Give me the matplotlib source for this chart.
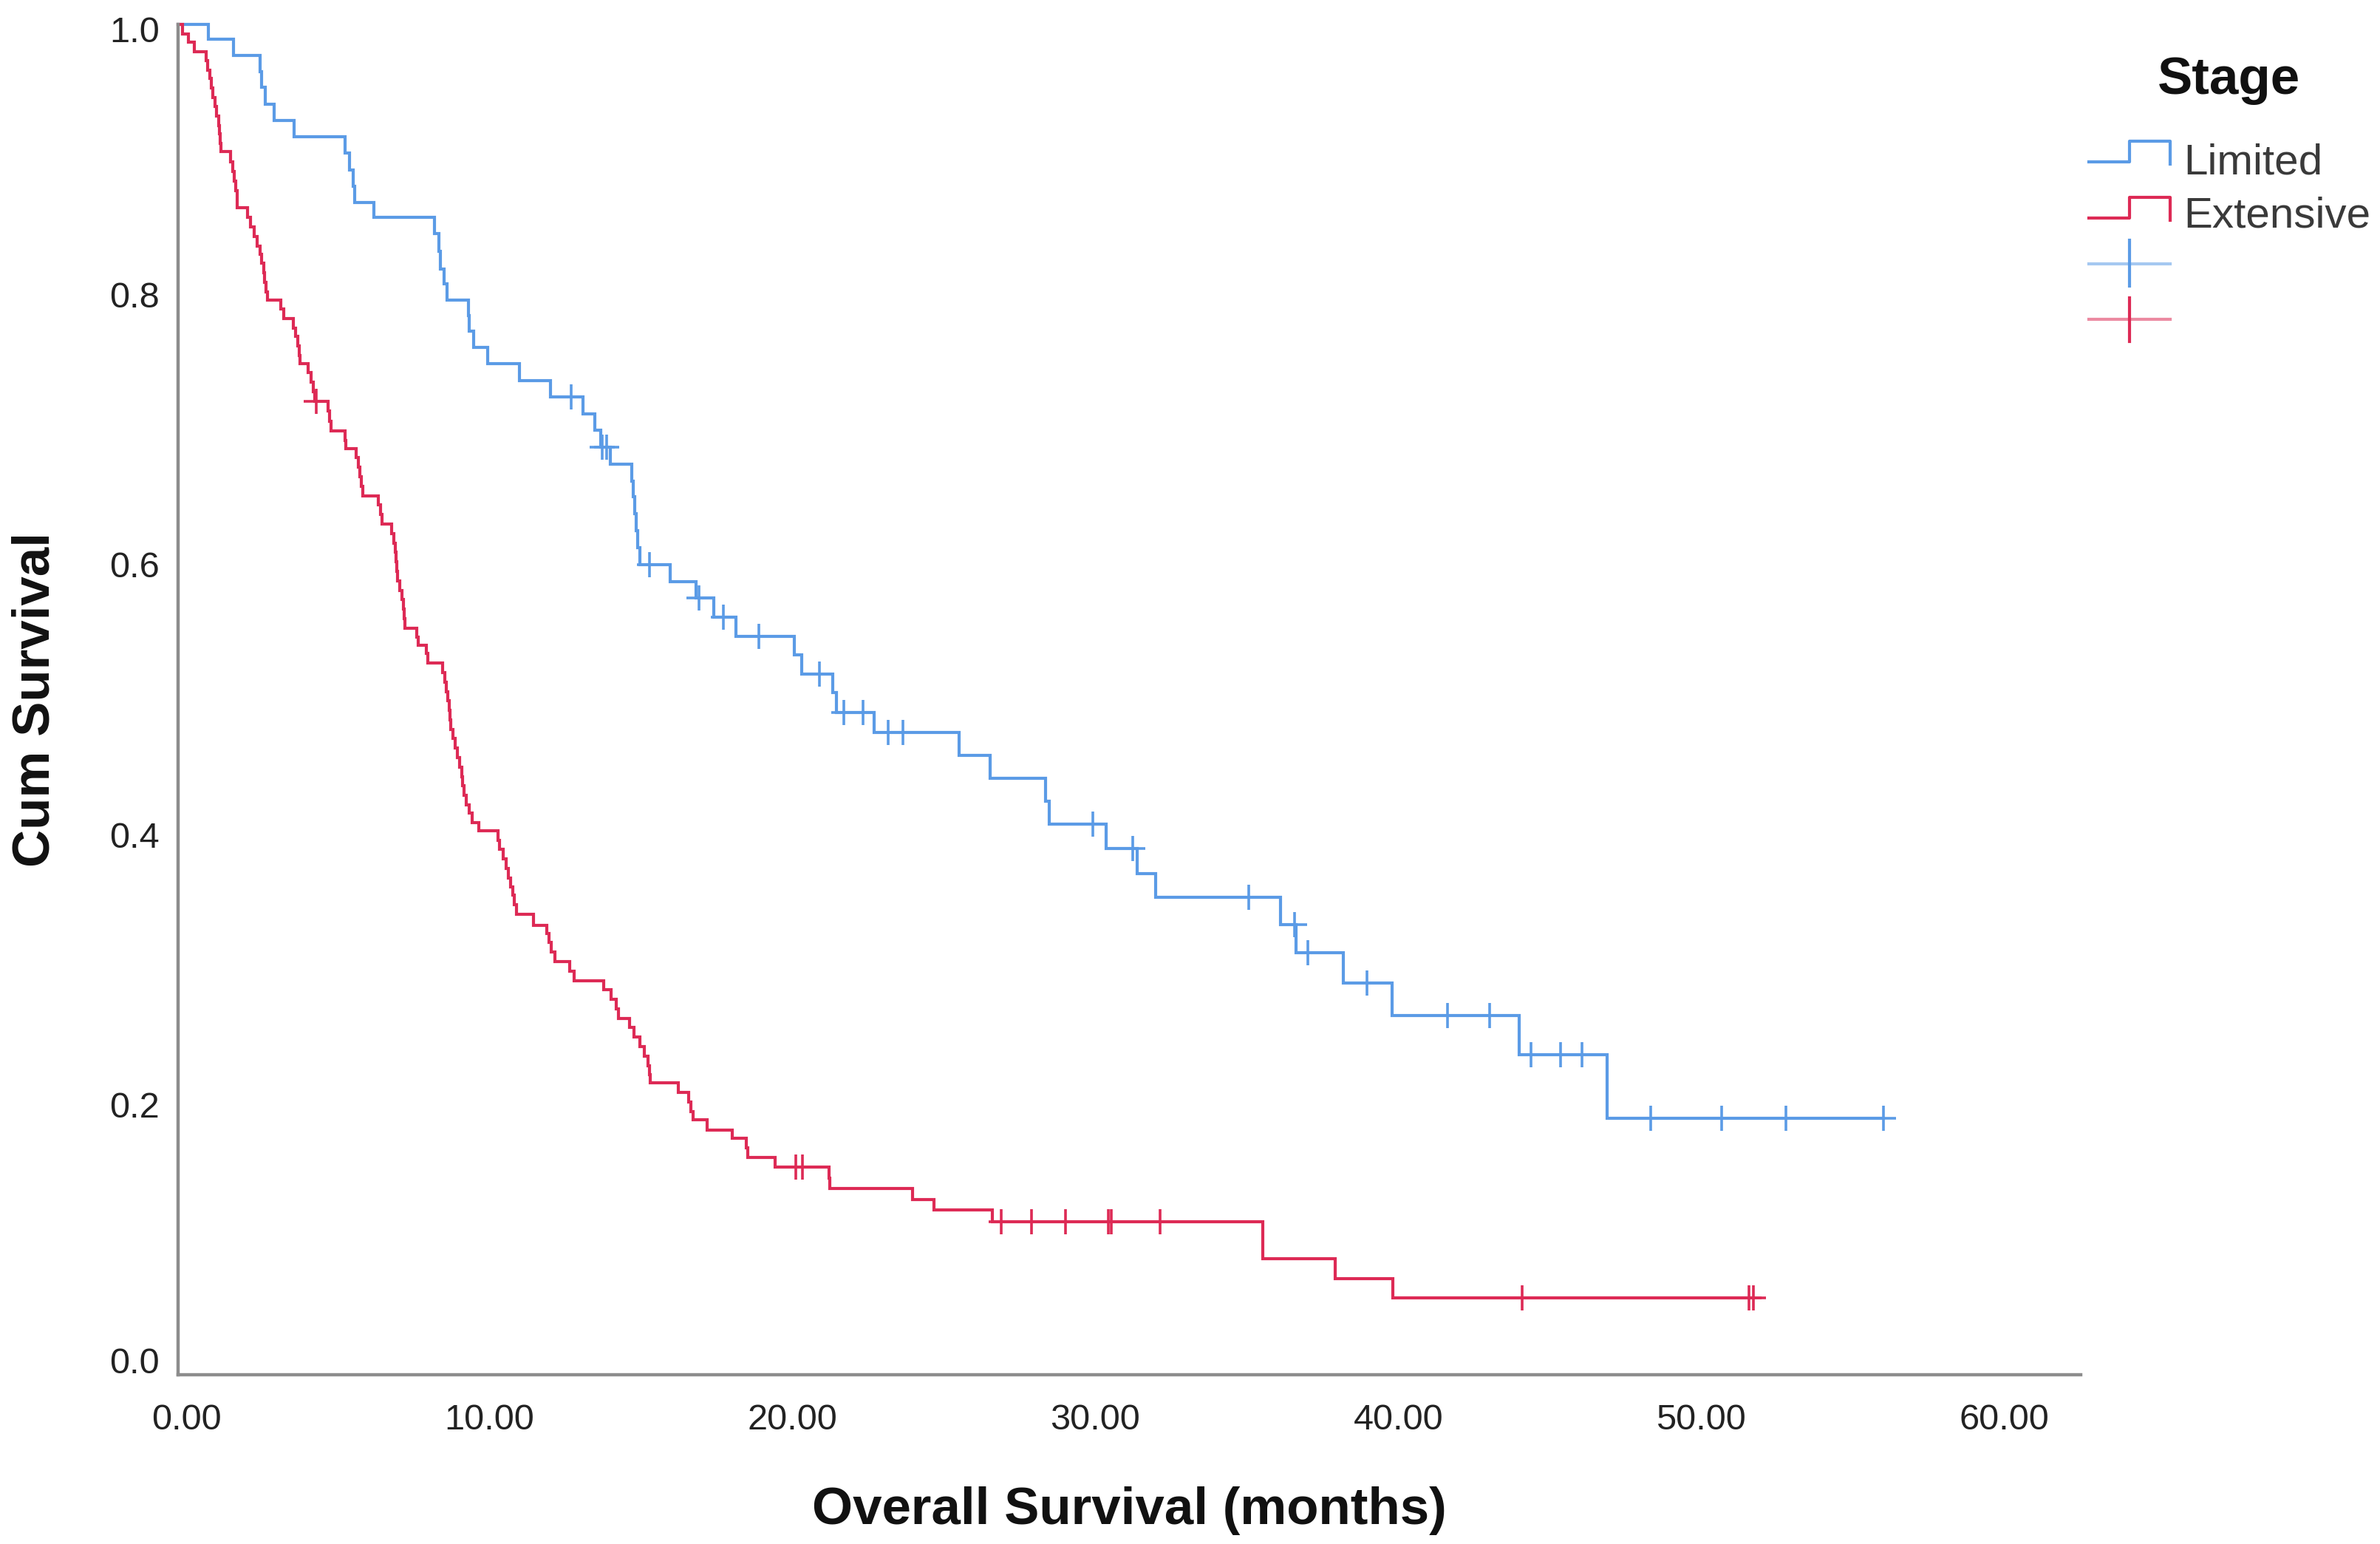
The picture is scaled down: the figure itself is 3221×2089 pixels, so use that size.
import matplotlib
import numpy as np

matplotlib.use('Agg')
import matplotlib.pyplot as plt
import matplotlib.transforms as mtransforms
from matplotlib.lines import Line2D

plt.rcParams['font.family'] = ['Liberation Sans', 'DejaVu Sans']

# Kaplan-Meier steps: month of each drop, survival after it
limited_times = [0, 0.99, 1.83, 2.70, 2.75, 2.87, 3.17, 3.84, 5.50, 5.66, 5.78, 5.82,
                 6.46, 8.46, 8.60, 8.65, 8.78, 8.88, 9.59, 9.62, 9.75, 10.21, 11.27,
                 12.30, 13.36, 13.76, 13.95, 14.26, 14.98, 15.02, 15.07, 15.12, 15.18,
                 15.25, 16.24, 17.10, 17.68, 18.42, 20.35, 20.58, 21.60, 21.72, 22.97,
                 25.78, 26.80, 28.62, 28.76, 30.63, 31.66, 32.26, 36.38, 36.90, 38.45,
                 40.07, 44.27, 47.17]
limited_surv = [1.0, 0.989, 0.977, 0.965, 0.9535, 0.941, 0.929, 0.917, 0.9045, 0.892, 0.880,
                0.868, 0.857, 0.845, 0.832, 0.819, 0.808, 0.796, 0.7845, 0.773, 0.761, 0.749,
                0.736, 0.724, 0.7115, 0.6997, 0.687, 0.6746, 0.662, 0.650, 0.6375, 0.625,
                0.6125, 0.600, 0.5875, 0.575, 0.561, 0.547, 0.533, 0.519, 0.505, 0.4905,
                0.4757, 0.4585, 0.4417, 0.425, 0.408, 0.3897, 0.371, 0.3536, 0.3333, 0.3123,
                0.2903, 0.2662, 0.237, 0.1898]
limited_censored = [12.98, 14.00, 14.15, 15.56, 17.20, 18.00, 19.17, 21.16, 21.98, 22.60,
                    23.43, 23.93, 30.19, 31.50, 35.34, 36.85, 37.29, 39.25, 41.91, 43.29,
                    44.66, 45.64, 46.34, 48.60, 50.94, 53.08, 56.30]

extensive_times = [0, 0.15, 0.35, 0.54, 0.93, 0.98, 1.04, 1.10, 1.15, 1.22, 1.28, 1.33, 1.37,
                   1.40, 1.42, 1.74, 1.80, 1.86, 1.91, 1.94, 1.96, 2.29, 2.40, 2.50, 2.62,
                   2.70, 2.76, 2.82, 2.86, 2.90, 2.94, 3.38, 3.49, 3.81, 3.88, 3.95, 4.00,
                   4.03, 4.30, 4.40, 4.47, 4.52, 4.95, 5.00, 5.06, 5.50, 5.53, 5.88, 5.95,
                   6.00, 6.05, 6.10, 6.62, 6.68, 6.73, 7.06, 7.12, 7.16, 7.19, 7.22, 7.25,
                   7.32, 7.38, 7.43, 7.46, 7.49, 7.87, 7.93, 8.20, 8.24, 8.74, 8.80, 8.85,
                   8.90, 8.94, 8.97, 9.00, 9.07, 9.15, 9.22, 9.28, 9.36, 9.40, 9.45, 9.50,
                   9.60, 9.70, 9.92, 10.55, 10.62, 10.72, 10.83, 10.90, 10.97, 11.04, 11.10,
                   11.18, 11.74, 12.17, 12.25, 12.32, 12.44, 12.93, 13.07, 14.05, 14.30,
                   14.47, 14.54, 14.89, 15.05, 15.24, 15.40, 15.52, 15.55, 15.58, 16.50,
                   16.85, 16.93, 17.00, 17.47, 18.30, 18.76, 18.80, 19.70, 21.49, 21.52,
                   24.24, 24.94, 26.88, 35.79, 38.19, 40.10]
extensive_surv = [1.0, 0.993, 0.987, 0.980, 0.973, 0.966, 0.960, 0.953, 0.946, 0.939, 0.932,
                  0.925, 0.919, 0.912, 0.906, 0.898, 0.891, 0.884, 0.877, 0.870, 0.864, 0.857,
                  0.850, 0.843, 0.836, 0.830, 0.823, 0.816, 0.809, 0.802, 0.796, 0.789, 0.782,
                  0.775, 0.769, 0.762, 0.755, 0.749, 0.742, 0.735, 0.728, 0.721, 0.714, 0.706,
                  0.699, 0.692, 0.686, 0.679, 0.672, 0.665, 0.658, 0.651, 0.644, 0.637, 0.630,
                  0.623, 0.616, 0.609, 0.602, 0.595, 0.588, 0.581, 0.574, 0.567, 0.560, 0.553,
                  0.546, 0.540, 0.534, 0.527, 0.520, 0.513, 0.506, 0.499, 0.492, 0.485, 0.478,
                  0.471, 0.464, 0.457, 0.450, 0.443, 0.436, 0.429, 0.422, 0.416, 0.409, 0.403,
                  0.396, 0.389, 0.382, 0.375, 0.368, 0.361, 0.355, 0.348, 0.341, 0.333, 0.327,
                  0.320, 0.313, 0.306, 0.299, 0.292, 0.285, 0.278, 0.271, 0.264, 0.257, 0.250,
                  0.243, 0.236, 0.229, 0.222, 0.216, 0.209, 0.202, 0.195, 0.189, 0.181, 0.175,
                  0.168, 0.161, 0.154, 0.1456, 0.1378, 0.1296, 0.1219, 0.1131, 0.0858, 0.0712,
                  0.0569]
extensive_censored = [4.56, 20.40, 20.60, 27.16, 28.16, 29.30, 30.70, 30.80, 32.40, 44.37,
                      51.85, 52.00]

x_ticks = [0, 10, 20, 30, 40, 50, 60]
y_ticks = [0.0, 0.2, 0.4, 0.6, 0.8, 1.0]

BLUE = '#5b9be6'
RED = '#dd2a55'
W, H = 3221, 2089


def survival_at(times, surv, when):
    idx = np.searchsorted(np.asarray(times), np.asarray(when), side='right') - 1
    return np.asarray(surv)[idx]


def draw_curve(axis, times, surv, censored, color):
    end = max(times[-1], censored[-1])
    xs = list(times) + [end]
    ys = list(surv) + [surv[-1]]
    axis.step(xs, ys, where='post', color=color, lw=1.5, clip_on=False,
              solid_joinstyle='miter')
    axis.plot(censored, survival_at(times, surv, censored), linestyle='none',
              marker='+', markersize=12, markeredgewidth=1.3, color=color, clip_on=False)


figure = plt.figure(figsize=(W / 200, H / 200), dpi=200)
axis = figure.add_axes([241 / W, 1 - 1860 / H, 2575 / W, 1827 / H])

draw_curve(axis, limited_times, limited_surv, limited_censored, BLUE)
draw_curve(axis, extensive_times, extensive_surv, extensive_censored, RED)

axis.set_xlim(0, 62.8)
axis.set_ylim(0, 1.0)
axis.set_xticks(x_ticks)
axis.set_yticks(y_ticks)
axis.set_xticklabels([f'{v:.2f}' for v in x_ticks])
axis.set_yticklabels([f'{v:.1f}' for v in y_ticks])
axis.tick_params(length=0, labelsize=17.5, labelcolor='#222222')
axis.tick_params(axis='x', pad=14)
axis.tick_params(axis='y', pad=9)
for side in ('top', 'right'):
    axis.spines[side].set_visible(False)
for side in ('left', 'bottom'):
    axis.spines[side].set_color('#8c8c8c')
    axis.spines[side].set_linewidth(1.6)

# SPSS nudges its tick labels slightly; mimic that
shift_x = mtransforms.ScaledTranslation(4 / 72, 0, figure.dpi_scale_trans)
for label in axis.get_xticklabels():
    label.set_transform(label.get_transform() + shift_x)
ylabels = axis.get_yticklabels()
ylabels[0].set_transform(ylabels[0].get_transform()
                         + mtransforms.ScaledTranslation(0, 7 / 72, figure.dpi_scale_trans))
ylabels[-1].set_transform(ylabels[-1].get_transform()
                          + mtransforms.ScaledTranslation(0, -2.5 / 72, figure.dpi_scale_trans))

axis.set_xlabel('Overall Survival (months)', fontsize=25.5, fontweight='bold', color='#111111')
axis.xaxis.set_label_coords(0.5, -0.1007)
axis.xaxis.label.set_va('center')
axis.set_ylabel('Cum Survival', fontsize=25.5, fontweight='bold', color='#111111')
axis.yaxis.set_label_coords(-0.0746, 0.5)
axis.yaxis.label.set_va('center')


# legend drawn by hand in figure pixels (SPSS style step icons and censor crosses)
def fx(px):
    return px / W


def fy(py):
    return 1 - py / H


figure.text(fx(3016), fy(127), 'Stage', fontsize=25.5, fontweight='bold',
            ha='center', va='baseline', color='#111111')
for color, low, high, label, base in ((BLUE, 219, 191, 'Limited', 235),
                                      (RED, 295, 267, 'Extensive', 307)):
    figure.add_artist(Line2D([fx(2827), fx(2882), fx(2882), fx(2937), fx(2937)],
                             [fy(low), fy(low), fy(high), fy(high), fy(low + 3)],
                             color=color, lw=1.5, transform=figure.transFigure))
    figure.text(fx(2955), fy(base), label, fontsize=21, color='#3a3a3a',
                ha='left', va='baseline')
for color, mid, top, bottom in ((BLUE, 357, 325, 387), (RED, 432, 403, 462)):
    figure.add_artist(Line2D([fx(2827), fx(2937)], [fy(mid), fy(mid)], color=color,
                             lw=1.5, alpha=0.55, transform=figure.transFigure))
    figure.add_artist(Line2D([fx(2882), fx(2882)], [fy(top), fy(bottom)], color=color,
                             lw=1.5, transform=figure.transFigure))

figure.savefig('out.png', dpi=200)
plt.close(figure)
